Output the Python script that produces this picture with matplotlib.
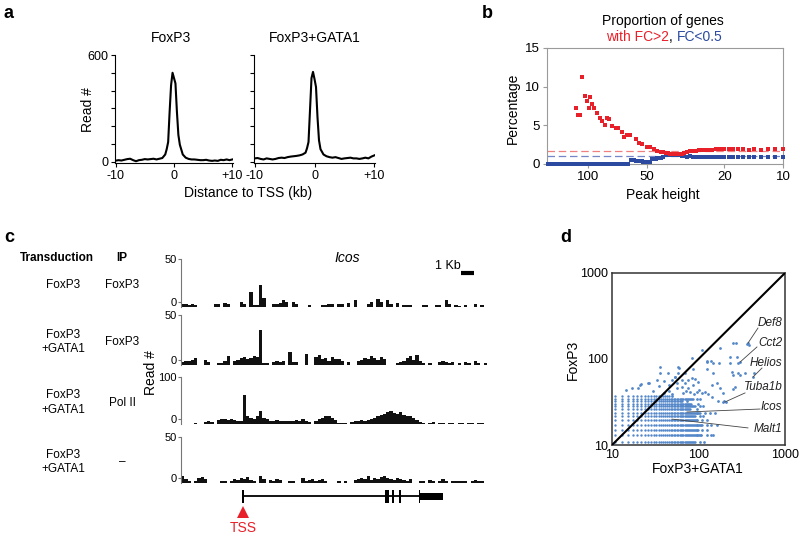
import numpy as np
import matplotlib.pyplot as plt
from matplotlib.ticker import NullLocator

plt.rcParams['font.family'] = ['Liberation Sans', 'DejaVu Sans']

W, H = 800, 539
RED = '#e8202a'
BLUE = '#2b4aa0'
DOT = '#5487c9'

# ---- a: average FoxP3 read profile around the TSS
profile_kb = [-10, -9.5, -9, -8.5, -8, -7.5, -7, -6.5, -6, -5.5, -5, -4.5, -4, -3.5, -3, -2.5, -2,
              -1.5, -1.25, -1, -0.75, -0.5, -0.25, 0, 0.25, 0.5, 0.75, 1,
              1.5, 2, 2.5, 3, 3.5, 4, 4.5, 5, 5.5, 6, 6.5, 7, 7.5, 8, 8.5, 9, 9.5, 10]
foxp3_profile = [5, 8, 6, 10, 14, 16, 8, 2, 8, 10, 14, 12, 14, 16, 12, 16, 20,
                 40, 70, 110, 280, 430, 500, 470, 440, 280, 150, 95,
                 40, 22, 15, 12, 12, 10, 8, 8, 10, 6, 4, 6, 4, 10, 8, 12, 8, 12]
gata1_profile = [18, 20, 15, 12, 18, 15, 12, 15, 20, 22, 20, 25, 28, 30, 32, 35, 40,
                 50, 75, 110, 290, 470, 505, 465, 420, 250, 120, 70,
                 40, 30, 25, 22, 25, 20, 15, 18, 20, 22, 18, 18, 15, 18, 22, 18, 28, 35]

# ---- b: proportion of genes with FC>2 / FC<0.5 by peak height
red_height = [115, 113, 110, 107, 104, 101, 99, 97, 95, 93, 90, 87, 85, 82, 80, 78, 75, 72, 70, 67,
              65, 63, 61, 57, 55, 53, 50, 48, 46, 44,
              42, 41, 40, 39, 38, 37, 36, 35, 34, 33, 32, 31, 30, 29, 28, 27, 26, 25, 24, 23,
              22, 21, 20, 19, 18, 17, 16, 15, 14, 13, 12, 11, 10]
red_pct = [7.2, 6.3, 6.3, 11.2, 8.8, 8.1, 7.2, 8.6, 7.8, 7.2, 6.6, 6.0, 5.5, 5.0, 5.9, 5.8, 4.9, 4.6, 4.6, 4.2,
           3.5, 3.7, 3.75, 3.2, 2.7, 2.6, 2.2, 2.15, 1.9, 1.7,
           1.6, 1.5, 1.45, 1.4, 1.35, 1.3, 1.3, 1.25, 1.3, 1.35, 1.4, 1.6, 1.65, 1.7, 1.7, 1.75, 1.75, 1.8, 1.8, 1.85,
           2.0, 1.95, 1.9, 1.9, 1.9, 1.9, 1.9, 1.85, 1.9, 1.85, 1.9, 1.9, 1.9]
blue_height = [160, 155, 150, 145, 140, 135, 130, 125, 120, 116, 112, 108, 104, 100, 97, 94, 91, 88, 85,
               82, 79, 76, 73, 70, 68, 66, 64, 62,
               60, 59, 58, 57, 56, 55, 54, 53, 52, 51, 50, 49, 48, 47, 46, 45, 44, 43, 42, 41,
               40, 39, 38, 37, 36, 35, 34, 33, 32, 31, 30, 29, 28, 27, 26, 25, 24, 23, 22, 21,
               20, 19, 18, 17, 16, 15, 14, 13, 12, 11, 10]
blue_pct = [0] * 28 + [0.55, 0.5, 0.5, 0.45, 0.45, 0.4, 0.4, 0.35, 0.3, 0.3, 0.25, 0.2, 0.2, 0.65, 0.7, 0.7,
                       0.75, 0.8, 0.8, 0.85,
                       1.1, 1.15, 1.2, 1.2, 1.15, 1.15, 1.1, 1.0, 1.0, 0.95, 1.0, 0.95, 0.95, 0.95, 0.95,
                       0.95, 0.95, 0.9, 0.9, 0.9,
                       0.9, 0.9, 0.9, 0.9, 0.9, 0.9, 0.9, 0.9, 0.9, 0.9, 0.9]
red_ref = 1.7
blue_ref = 1.0

# ---- c: Icos locus tracks, 0.25 kb bins
bin_size = 0.25
track_foxp3 = [4, 3, 2, 3, 2, 0, 0, 0, 0, 0, 3, 4, 0, 5, 4, 0, 0, 0, 6, 3,
               0, 18, 2, 2, 26, 10, 0, 0, 3, 4, 5, 8, 6, 0, 6, 4, 0, 0, 0, 2,
               0, 0, 0, 2, 2, 3, 3, 0, 3, 4, 0, 5, 0, 8, 0, 0, 0, 3, 6, 0,
               9, 6, 0, 8, 3, 0, 5, 0, 2, 2, 2, 0, 0, 0, 2, 2, 0, 0, 2, 2,
               0, 8, 4, 0, 2, 1, 0, 2, 0, 0, 3, 0, 2, 0]
track_gata1 = [3, 5, 4, 6, 8, 0, 0, 6, 3, 0, 0, 2, 2, 5, 10, 0, 4, 6, 8, 9,
               7, 8, 10, 9, 39, 2, 2, 0, 3, 4, 3, 4, 0, 15, 3, 3, 0, 0, 12, 0,
               0, 9, 11, 7, 8, 5, 9, 7, 7, 5, 0, 3, 0, 0, 5, 6, 8, 7, 10, 8,
               6, 9, 7, 0, 0, 0, 2, 3, 5, 8, 10, 6, 11, 4, 2, 0, 2, 0, 0, 3,
               4, 3, 2, 3, 0, 2, 0, 3, 2, 0, 4, 2, 0, 2]
track_pol2 = [0, 1, 1, 1, 2, 1, 0, 5, 8, 4, 0, 10, 12, 11, 9, 13, 10, 6, 6, 68,
              20, 15, 12, 18, 30, 15, 12, 8, 8, 10, 7, 6, 8, 6, 8, 10, 8, 12, 7, 5,
              0, 8, 12, 15, 18, 20, 14, 10, 3, 2, 2, 0, 5, 8, 6, 9, 7, 10, 12, 15,
              20, 22, 25, 28, 30, 26, 24, 28, 22, 20, 18, 14, 10, 4, 3, 0, 2, 5, 0, 2,
              3, 0, 2, 3, 0, 2, 2, 0, 3, 2, 0, 2, 3, 0]
track_input = [8, 5, 3, 0, 3, 6, 7, 5, 0, 0, 0, 0, 2, 3, 0, 3, 5, 4, 6, 5,
               7, 4, 3, 0, 8, 5, 0, 4, 3, 5, 4, 0, 0, 2, 2, 0, 0, 6, 3, 4,
               5, 3, 4, 5, 3, 0, 0, 0, 2, 0, 3, 0, 0, 4, 5, 6, 5, 8, 4, 6,
               5, 7, 9, 6, 5, 4, 6, 5, 4, 3, 5, 0, 0, 3, 2, 0, 4, 3, 0, 2,
               5, 2, 0, 3, 2, 2, 3, 2, 0, 2, 4, 2, 3, 0]
track_max = [50, 50, 100, 50]
transduction = ['FoxP3', 'FoxP3\n+GATA1', 'FoxP3\n+GATA1', 'FoxP3\n+GATA1']
ip_labels = ['FoxP3', 'FoxP3', 'Pol II', '\u2013']
tss_pos = 4.77
exon_start = [4.72, 15.7, 16.2, 16.78, 18.25, 18.38]
exon_end = [4.85, 15.95, 16.32, 16.9, 18.38, 20.15]
exon_half = [6.5, 6.5, 6.5, 6.5, 6.5, 3.5]

# ---- d: FoxP3 vs FoxP3+GATA1 peak heights
count_unit = 2.16
grid_rows = [10.8, 13.0, 15.1, 17.3, 19.4, 21.6, 23.8, 25.9, 28.1, 30.2, 32.4, 34.6, 36.7]
grid_row_max = [92, 110, 100, 112, 98, 92, 105, 80, 92, 84, 66, 88, 46]
scatter_extra = [(14.5, 43.6), (16.9, 45.5), (21.6, 51.1), (27.0, 53), (35.9, 68.2), (58.2, 81.2),
                 (60, 77.7), (35.9, 81), (53.4, 62.3), (253, 152), (360, 149), (382, 145),
                 (108.6, 127), (84.6, 101.7), (124, 95.5), (139, 95.5), (148.5, 89), (172, 89),
                 (232, 106), (276, 106), (288, 89), (242, 71), (288, 69), (345, 69), (442, 69),
                 (124, 76), (148.5, 69), (87.5, 76), (69.6, 68), (58.3, 68), (53.4, 62), (44, 69),
                 (21, 50), (20, 45.5), (26.3, 52), (32.8, 57), (49, 57), (56, 52), (63.8, 57),
                 (69.6, 52), (76, 57), (83, 59.6), (91, 58), (99.4, 54.6), (87.5, 50), (76, 45.5),
                 (64, 47.6), (56, 45.5), (95, 41.7), (119, 41.7), (142, 50), (162, 52), (177, 45.5),
                 (194, 39.8), (142, 36.5), (169, 32.9), (198, 32.9), (253, 44.3), (253, 65), (302, 65),
                 (232, 89), (177, 133), (268, 152), (124, 93), (264, 47.6), (190, 32), (210, 32),
                 (373, 153), (302, 92), (427, 61.8), (40, 40), (45, 42), (50, 39), (66, 40), (72, 43),
                 (80, 41), (88, 39), (100, 44), (110, 40), (130, 39), (30, 42), (35, 48), (40, 55), (45, 50),
                 (104, 10.8), (115, 10.8), (125, 13.0), (140, 13.0), (148, 13.0), (110, 15.1), (124, 15.1),
                 (125, 17.3), (138, 17.3), (162, 17.3), (110, 19.4), (124, 19.4), (104, 21.6), (114, 21.6),
                 (118, 23.8), (135, 23.8), (155, 23.8), (95, 25.9), (104, 28.1), (114, 28.1), (98, 30.2),
                 (73, 32.4), (96, 34.6), (104, 34.6), (50, 36.7)]
gene_names = ['Def8', 'Cct2', 'Helios', 'Tuba1b', 'Icos', 'Malt1']
gene_x = [373, 302, 427, 202, 73.6, 49.4]
gene_y = [153, 92, 61.8, 31.6, 24.2, 20]
label_y = [262, 153, 89.8, 47.2, 27.7, 15.3]
leader_x = [487, 474, 542, 345, 514, 373]
leader_y = [229, 138, 78.5, 40.3, 26.2, 15.8]


def box(l, t, r, b):
    return [l / W, 1 - b / H, (r - l) / W, (b - t) / H]


fig = plt.figure(figsize=(W / 100, H / 100), dpi=100)


def txt(x, y, s, **kw):
    fig.text(x / W, 1 - y / H, s, ha=kw.pop('ha', 'center'), va=kw.pop('va', 'center'), **kw)


# panel a
ax_a1 = fig.add_axes(box(115, 55, 233, 163))
ax_a2 = fig.add_axes(box(254, 55, 375, 163))
for ax, reads in [(ax_a1, foxp3_profile), (ax_a2, gata1_profile)]:
    ax.plot(profile_kb, reads, color='black', lw=1.5)
    ax.set_xlim(-10.1, 10.1)
    ax.set_ylim(-8, 600)
    ax.spines[['top', 'right']].set_visible(False)
    ax.set_xticks([-10, 0, 10], ['-10', '0', '+10'])
    ax.set_yticks(range(0, 601, 100))
    ax.tick_params(labelsize=9, length=3, width=0.8, pad=2)
ax_a1.set_yticklabels(['0', '', '', '', '', '', '600'])
ax_a2.set_yticklabels([])
txt(171, 38, 'FoxP3', fontsize=10)
txt(315, 38, 'FoxP3+GATA1', fontsize=10)
txt(88, 110, 'Read #', fontsize=10, rotation=90)
txt(248, 193, 'Distance to TSS (kb)', fontsize=10)

# panel b
ax_b = fig.add_axes(box(547, 48, 783, 164))
ax_b.set_xscale('log')
ax_b.axhline(red_ref, color='#f08080', lw=0.9, ls=(0, (6, 3)))
ax_b.axhline(blue_ref, color='#7586c8', lw=0.9, ls=(0, (6, 3)))
ax_b.scatter(blue_height, blue_pct, s=6, marker='s', color=BLUE, lw=0, clip_on=False, zorder=3)
ax_b.scatter(red_height, red_pct, s=6, marker='s', color=RED, lw=0, clip_on=False, zorder=3)
ax_b.set_xlim(162, 10)
ax_b.set_ylim(0, 15)
ax_b.xaxis.set_minor_locator(NullLocator())
ax_b.set_xticks([100, 50, 20, 10], ['100', '50', '20', '10'])
ax_b.set_yticks([0, 5, 10, 15])
for s in ax_b.spines.values():
    s.set_color('#9a9a9a')
    s.set_linewidth(0.8)
ax_b.tick_params(color='#9a9a9a', labelsize=9.5, length=3, pad=2)
txt(663, 21, 'Proportion of genes', fontsize=10)
txt(669, 37, 'with FC>2', fontsize=10, color=RED, ha='right')
txt(669, 37, ',', fontsize=10, ha='left')
txt(677, 37, 'FC<0.5', fontsize=10, color=BLUE, ha='left')
txt(513, 108, 'Percentage', fontsize=10, rotation=90)
txt(663, 195, 'Peak height', fontsize=10)

# panel c
track_px = [(259, 307), (315, 365), (377, 424), (437, 483)]
tracks = [track_foxp3, track_gata1, track_pol2, track_input]
n_bins = len(track_foxp3)
bin_kb = np.arange(n_bins) * bin_size
x_end = n_bins * bin_size
for i, ((top, bot), reads, ymax) in enumerate(zip(track_px, tracks, track_max)):
    ax = fig.add_axes(box(181, top, 487, bot))
    lo = -ymax * 5 / (bot - top - 5)   # zero sits ~5 px above the track bottom
    ax.bar(bin_kb, reads, bottom=lo, width=bin_size, align='edge', color='#111111', lw=0)
    ax.set_xlim(0, x_end)
    ax.set_ylim(lo, ymax)
    for k in ['top', 'right', 'bottom']:
        ax.spines[k].set_visible(False)
    ax.spines['left'].set_color('#777777')
    ax.spines['left'].set_linewidth(0.8)
    ax.set_xticks([])
    ax.set_yticks([0, ymax])
    ax.tick_params(labelsize=8, length=2, pad=1, color='#777777')
    if i == 0:
        ax.plot([x_end - 2.0, x_end - 1.0], [34, 34], color='black', lw=3, clip_on=False,
                solid_capstyle='butt')
        ax.text(x_end - 3.0, 42, '1 Kb', fontsize=9, ha='center', va='center')

ax_g = fig.add_axes(box(181, 485, 487, 539))
ax_g.set_xlim(0, x_end)
ax_g.set_ylim(54, 0)
ax_g.axis('off')
ax_g.plot([tss_pos, exon_start[-1]], [11, 11], color='black', lw=1.3)
for s0, s1, hh in zip(exon_start, exon_end, exon_half):
    ax_g.bar(s0, 2 * hh, width=s1 - s0, bottom=11 - hh, align='edge', color='black', lw=0)
ax_g.plot(tss_pos, 27, marker='^', ms=8, color=RED, mew=0)
ax_g.text(tss_pos, 43, 'TSS', color=RED, fontsize=10, ha='center', va='center')

txt(57, 258, 'Transduction', fontsize=8.5, weight='bold')
txt(122, 258, 'IP', fontsize=8.5, weight='bold')
for (top, bot), lab, ip in zip(track_px, transduction, ip_labels):
    mid = (top + bot) / 2 + 2
    txt(63, mid, lab, fontsize=8.5, linespacing=1.25)
    txt(122, mid, ip, fontsize=8.5)
txt(151, 373, 'Read #', fontsize=10, rotation=90)
txt(347, 258, 'Icos', fontsize=10, style='italic')

# panel d
ax_d = fig.add_axes(box(612, 273, 785, 445))
ax_d.set_xscale('log')
ax_d.set_yscale('log')
cols = count_unit * np.arange(5, 80)
grid_x, grid_y = [], []
for y, xmax in zip(grid_rows, grid_row_max):
    xs = cols[cols <= xmax]
    grid_x.extend(xs)
    grid_y.extend([y] * len(xs))
ax_d.scatter(grid_x, grid_y, s=3, color=DOT, lw=0, zorder=2)
ex_x, ex_y = zip(*scatter_extra)
ax_d.scatter(ex_x, ex_y, s=4, color=DOT, lw=0, zorder=2)
ax_d.plot([10, 1000], [10, 1000], color='black', lw=1.5, zorder=3)
for name, gx, gy, ly, lx0, ly0 in zip(gene_names, gene_x, gene_y, label_y, leader_x, leader_y):
    ax_d.plot([lx0, gx], [ly0, gy], color='#444444', lw=0.6, zorder=3)
    ax_d.text(930, ly, name, fontsize=8.5, style='italic', ha='right', va='center', color='#222222')
ax_d.set_xlim(10, 1000)
ax_d.set_ylim(10, 1000)
ax_d.minorticks_off()
ax_d.set_xticks([10, 100, 1000], ['10', '100', '1000'])
ax_d.set_yticks([10, 100, 1000], ['10', '100', '1000'])
ax_d.tick_params(length=0, labelsize=9, pad=3)
for s in ax_d.spines.values():
    s.set_color('#333333')
    s.set_linewidth(1.1)
txt(573, 360, 'FoxP3', fontsize=10, rotation=90)
txt(698, 469, 'FoxP3+GATA1', fontsize=10)

# panel letters
txt(9, 14, 'a', fontsize=13, weight='bold')
txt(487, 13, 'b', fontsize=13, weight='bold')
txt(9, 237, 'c', fontsize=13, weight='bold')
txt(566, 237, 'd', fontsize=13, weight='bold')

fig.savefig('out.png', dpi=100)
